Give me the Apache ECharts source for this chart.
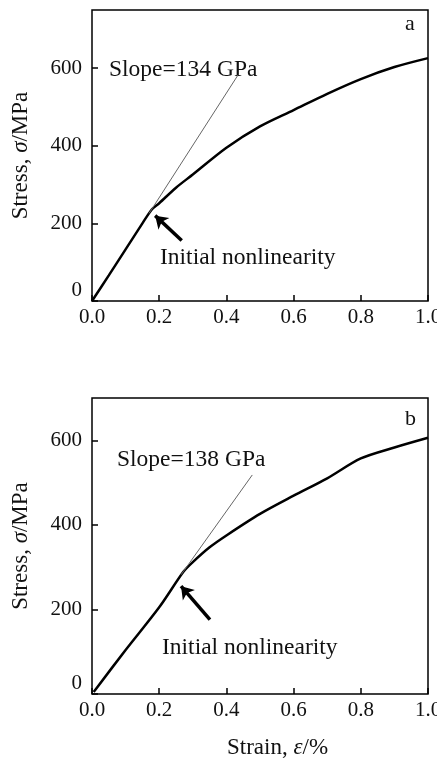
<!DOCTYPE html>
<html>
<head>
<meta charset="utf-8">
<script src="https://cdn.jsdelivr.net/npm/echarts@6/dist/echarts.min.js"></script>
<style>
html, body { margin: 0; background: #fff; }
#main { width: 437px; height: 760px; }
</style>
</head>
<body>
<div id="main"></div>
<script>
// panel a
var strainA = [0, 0.05, 0.1, 0.15, 0.178, 0.2, 0.25, 0.3, 0.4, 0.5, 0.6, 0.7, 0.8, 0.9, 1.0];
var stressA = [0, 66, 133, 200, 236, 252, 292, 326, 395, 450, 492, 534, 572, 603, 626];
var tangentA = [[0.17, 226], [0.435, 583]];
var arrowA = [[0.267, 156], [0.188, 220]];

// panel b
var strainB = [0.005, 0.1, 0.2, 0.272, 0.3, 0.35, 0.4, 0.5, 0.6, 0.7, 0.8, 0.9, 1.0];
var stressB = [5, 104, 205, 289, 312, 347, 375, 426, 469, 510, 557, 583, 606];
var tangentB = [[0.265, 282], [0.477, 518]];
var arrowB = [[0.351, 176], [0.265, 255]];

var serif = '"Liberation Serif", "DejaVu Serif", serif';

function zip(xs, ys) {
	var out = [];
	for (var i = 0; i < xs.length; i++) {
		out.push([xs[i], ys[i]]);
	}
	return out;
}

function xAxisOf(idx) {
	return {
		type: 'value', gridIndex: idx, min: 0, max: 1, interval: 0.2,
		axisLine: { show: false },
		axisTick: { inside: true, length: 6, lineStyle: { color: '#000', width: 1.5 } },
		splitLine: { show: false },
		axisLabel: {
			margin: 6, color: '#111', fontFamily: serif, fontSize: 21,
			formatter: function (v) { return v.toFixed(1); }
		}
	};
}

function yAxisOf(idx, max) {
	return {
		type: 'value', gridIndex: idx, min: 0, max: max, interval: 200,
		axisLine: { show: false },
		axisTick: { inside: true, length: 6, lineStyle: { color: '#000', width: 1.5 } },
		splitLine: { show: false },
		axisLabel: {
			margin: 10, color: '#111', fontFamily: serif, fontSize: 21,
			showMaxLabel: false, verticalAlignMinLabel: 'bottom'
		},
		name: 'Stress, {i|σ}/MPa',
		nameLocation: 'middle',
		nameGap: 60,
		nameTextStyle: {
			color: '#111', fontFamily: serif, fontSize: 23,
			rich: { i: { fontStyle: 'italic', fontFamily: serif, fontSize: 23, color: '#111' } }
		}
	};
}

function curve(idx, data) {
	return {
		type: 'line', xAxisIndex: idx, yAxisIndex: idx, data: data,
		showSymbol: false, smooth: 0.3, silent: true,
		lineStyle: { color: '#000', width: 2.5 }
	};
}

function tangent(idx, data) {
	return {
		type: 'line', xAxisIndex: idx, yAxisIndex: idx, data: data,
		showSymbol: false, silent: true,
		lineStyle: { color: '#666', width: 1 }
	};
}

function arrow(idx, coords) {
	return {
		type: 'lines', coordinateSystem: 'cartesian2d', xAxisIndex: idx, yAxisIndex: idx,
		data: [{ coords: coords }],
		symbol: ['none', 'arrow'], symbolSize: [0, 12], silent: true,
		lineStyle: { color: '#000', width: 3.5, opacity: 1 }
	};
}

function label(text, x, y, size) {
	return {
		type: 'text', x: x, y: y, silent: true,
		style: {
			text: text, font: size + 'px ' + serif, fill: '#111',
			align: 'left', verticalAlign: 'middle'
		}
	};
}

var myChart = echarts.init(document.getElementById('main'));
option = {
	backgroundColor: '#fff',
	animation: false,
	grid: [
		{ left: 92, top: 10, width: 336, height: 291, show: true, borderColor: '#000', borderWidth: 1.5, outerBoundsMode: 'none', containLabel: false },
		{ left: 92, top: 398, width: 336, height: 296, show: true, borderColor: '#000', borderWidth: 1.5, outerBoundsMode: 'none', containLabel: false }
	],
	xAxis: [xAxisOf(0), xAxisOf(1)],
	yAxis: [yAxisOf(0, 750), yAxisOf(1, 700)],
	series: [
		curve(0, zip(strainA, stressA)),
		tangent(0, tangentA),
		arrow(0, arrowA),
		curve(1, zip(strainB, stressB)),
		tangent(1, tangentB),
		arrow(1, arrowB)
	],
	graphic: [
		label('a', 405, 24, 22),
		label('Slope=134 GPa', 109, 70, 23.5),
		label('Initial nonlinearity', 160, 258, 23.5),
		label('b', 405, 419, 22),
		label('Slope=138 GPa', 117, 460, 23.5),
		label('Initial nonlinearity', 162, 648, 23.5),
		{
			type: 'text', x: 227, y: 748, silent: true,
			style: {
				text: 'Strain, {i|ε}/%', font: '23px ' + serif, fill: '#111',
				align: 'left', verticalAlign: 'middle',
				rich: { i: { fontStyle: 'italic', fontFamily: serif, fontSize: 23, fill: '#111' } }
			}
		}
	]
};
myChart.setOption(option, true);
</script>
</body>
</html>
